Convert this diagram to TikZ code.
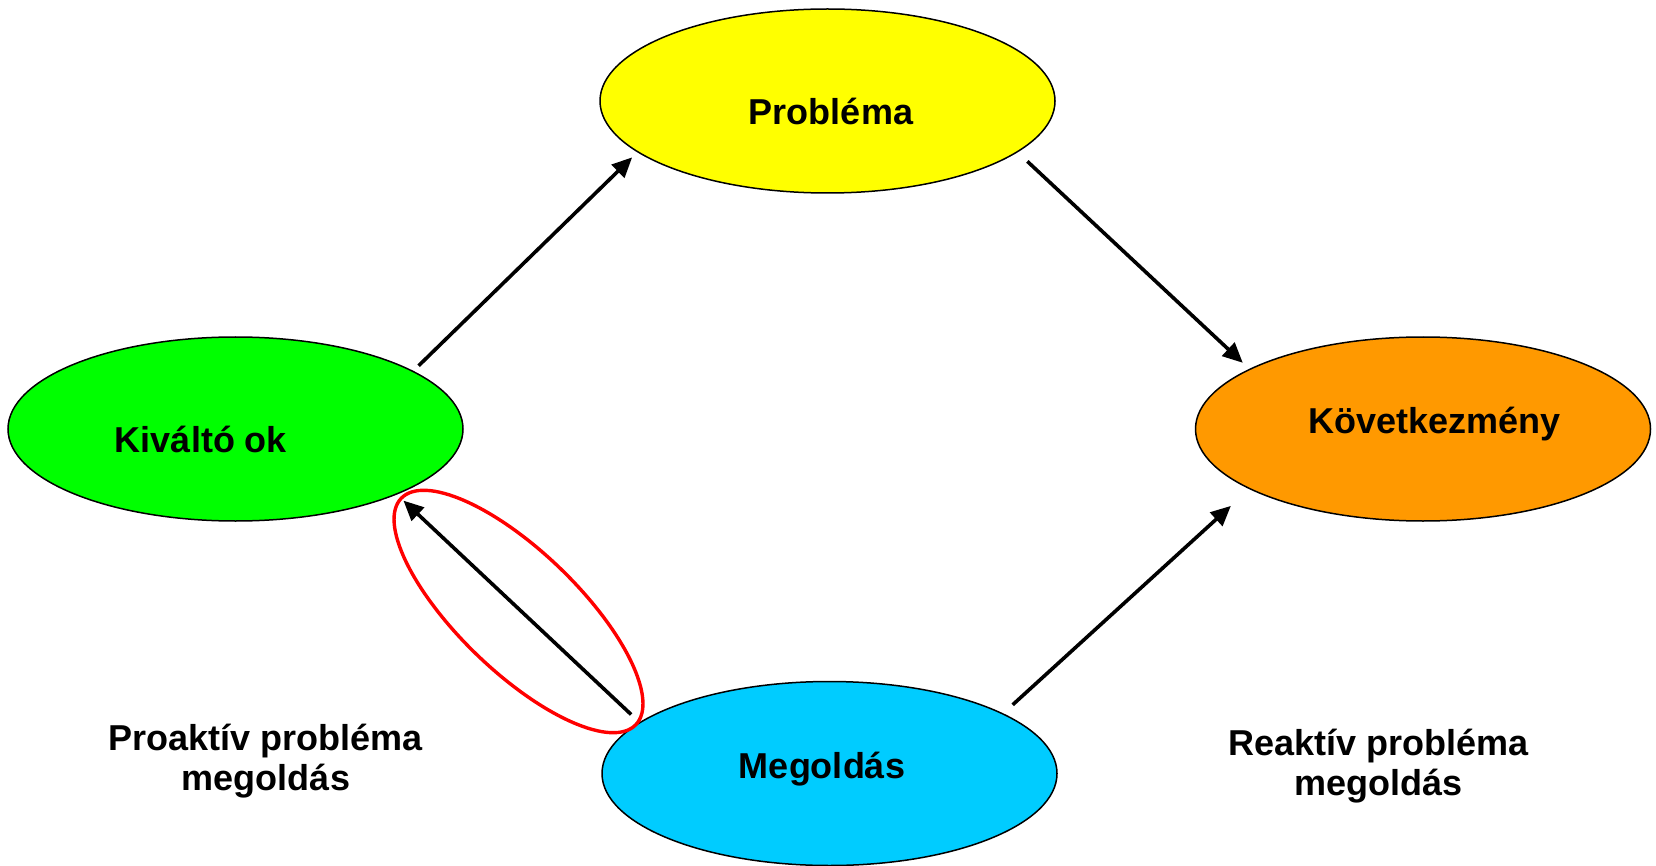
\documentclass[tikz,border=0pt]{standalone}
\usepackage{fontspec}
\setmainfont{Liberation Sans}
\usetikzlibrary{arrows.meta,shapes.geometric}
\definecolor{cyellow}{HTML}{FFFF00}
\definecolor{cgreen}{HTML}{00FF00}
\definecolor{corange}{HTML}{FF9900}
\definecolor{ccyan}{HTML}{00CCFF}
\definecolor{cred}{HTML}{FF0000}
\begin{document}
\begin{tikzpicture}[x=1pt,y=-1pt,
  blob/.style={ellipse,draw=black,line width=1.5pt,minimum width=455pt,minimum height=184pt,inner sep=0pt,outer sep=0pt},
  lbl/.style={font=\fontsize{36}{40}\selectfont\bfseries,anchor=base,inner sep=0pt},
  conn/.style={line width=3.6pt,-{Triangle[length=20pt,width=18pt]}},
]
\useasboundingbox (0,0) rectangle (1656,866);
\node[blob,fill=cyellow] (prob) at (827.5,101) {};
\node[blob,fill=cgreen] (kiv) at (235.5,429) {};
\node[blob,fill=corange] (kov) at (1423,429) {};
\node[blob,fill=ccyan] (meg) at (829.5,773.5) {};

\node[lbl] (tprob) at (831,125) {Probléma};
\node[lbl] (tkiv) at (201,452) {Kiváltó ok};
\node[lbl] (tkov) at (1434.5,433) {Következmény};
\node[lbl] (tmeg) at (822,778) {Megoldás};
\node[lbl,align=center] (pro) at (266,790) {Proaktív probléma\\megoldás};
\node[lbl,align=center] (rea) at (1378.5,795) {Reaktív probléma\\megoldás};

\draw[conn,shorten <=8pt,shorten >=8pt] (kiv.18.4) -- (prob.195.4);
\draw[conn,shorten <=14pt,shorten >=9.6pt] (prob.-15.6) -- (kov.161.8);
\draw[conn,shorten <=13.5pt,shorten >=25.6pt] (meg.19.3) -- (kov.199.4);
\draw[conn,shorten <=12pt,shorten >=9.6pt] (meg.165.1) -- (kiv.-22.1);

\draw[cred,line width=3.4pt,rotate around={-44:(518.5,611.5)}] (518.5,611.5) ellipse [x radius=163pt, y radius=60pt];
\end{tikzpicture}
\end{document}
